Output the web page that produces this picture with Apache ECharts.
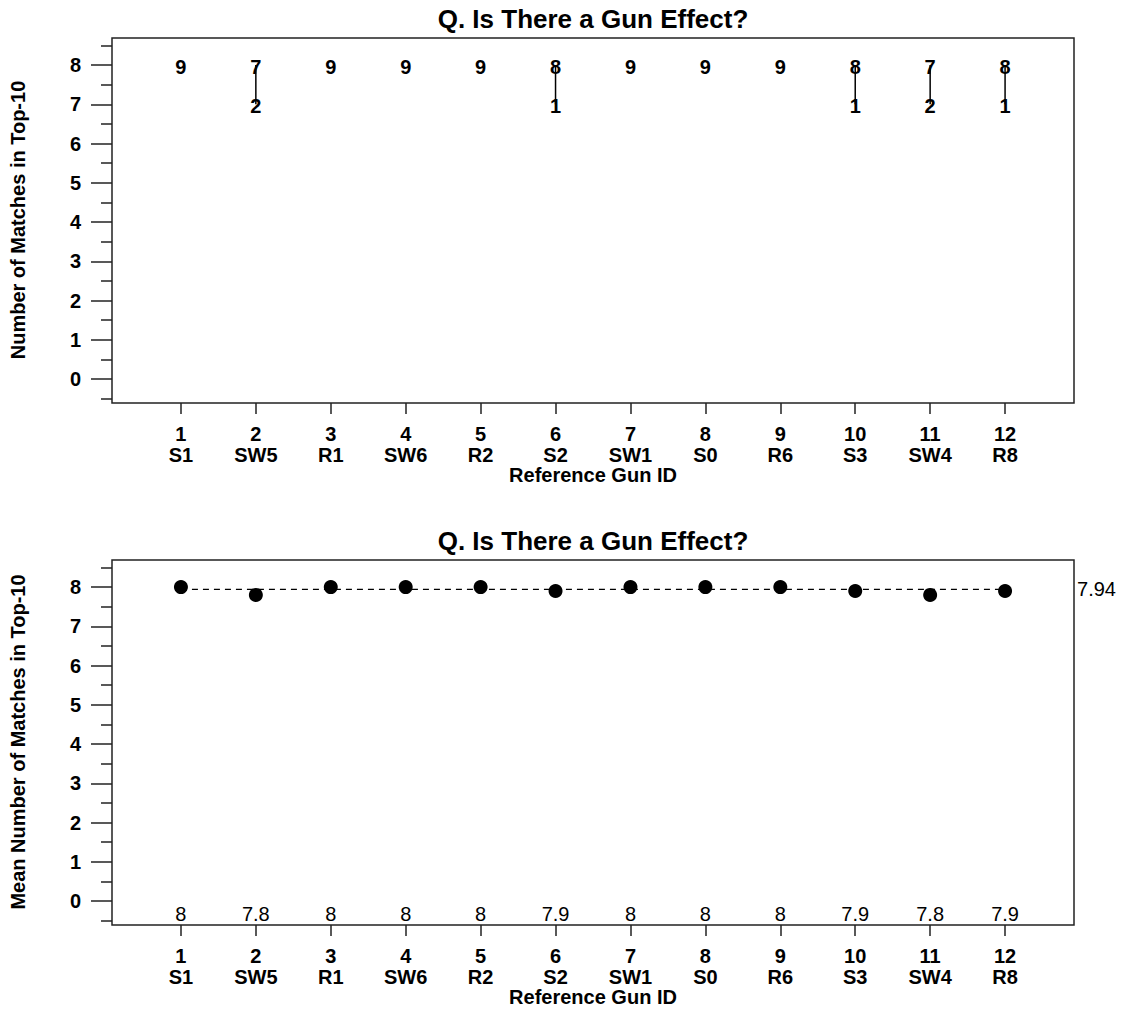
<!DOCTYPE html>
<html>
<head>
<meta charset="utf-8">
<title>Q. Is There a Gun Effect?</title>
<script src="https://cdn.jsdelivr.net/npm/echarts@6/dist/echarts.min.js"></script>
<style>
  html, body { margin: 0; padding: 0; background: #fff; }
  #chart { width: 1122px; height: 1009px; }
</style>
</head>
<body>
<div id="chart"></div>
<script>
// Reference guns along the x axis
const gunNumbers = [1, 2, 3, 4, 5, 6, 7, 8, 9, 10, 11, 12];
const gunIds = ['S1', 'SW5', 'R1', 'SW6', 'R2', 'S2', 'SW1', 'S0', 'R6', 'S3', 'SW4', 'R8'];

// How many runs gave 8 matches and how many gave 7 matches in the top 10
const runsWith8 = [9, 7, 9, 9, 9, 8, 9, 9, 9, 8, 7, 8];
const runsWith7 = [0, 2, 0, 0, 0, 1, 0, 0, 0, 1, 2, 1];

// Mean number of matches per gun, and the overall mean
const meanMatches = [8, 7.8, 8, 8, 8, 7.9, 8, 8, 8, 7.9, 7.8, 7.9];
const overallMean = 7.94;

// Axis ticks
const yMajorTicks = [0, 1, 2, 3, 4, 5, 6, 7, 8];
const yMinorTicks = [-0.5, 0.5, 1.5, 2.5, 3.5, 4.5, 5.5, 6.5, 7.5, 8.5];

const titleText = 'Q. Is There a Gun Effect?';
const xAxisTitle = 'Reference Gun ID';
const yAxisTitleTop = 'Number of Matches in Top-10';
const yAxisTitleBottom = 'Mean Number of Matches in Top-10';

const FONT = '"Liberation Sans", Arial, Helvetica, sans-serif';
const BLACK = '#000';

const X_MIN = 0.08, X_MAX = 12.92;
const Y_MIN = -0.61, Y_MAX = 8.69;

const grids = [
  { left: 112, right: 48, top: 38, height: 365 },
  { left: 112, right: 48, top: 560, height: 365 }
];

function makeXAxis(gridIndex) {
  return {
    type: 'value', gridIndex, min: X_MIN, max: X_MAX, position: 'bottom',
    axisLine: { show: false, onZero: false },
    splitLine: { show: false },
    axisTick: { show: true, length: 11, customValues: gunNumbers,
                lineStyle: { color: '#222', width: 1.5 } },
    axisLabel: {
      customValues: gunNumbers,
      margin: 20,
      formatter: v => v + '\n' + gunIds[gunNumbers.indexOf(v)],
      fontFamily: FONT, fontSize: 20, fontWeight: 'bold', color: BLACK,
      lineHeight: 21
    }
  };
}

function makeYAxes(gridIndex) {
  return [
    {
      type: 'value', gridIndex, min: Y_MIN, max: Y_MAX, position: 'left',
      axisLine: { show: false, onZero: false }, splitLine: { show: false },
      axisTick: { show: true, length: 21, customValues: yMajorTicks,
                  lineStyle: { color: '#222', width: 1.5 } },
      axisLabel: { customValues: yMajorTicks, margin: 31,
                   fontFamily: FONT, fontSize: 20, fontWeight: 'bold', color: BLACK }
    },
    {
      type: 'value', gridIndex, min: Y_MIN, max: Y_MAX, position: 'left',
      axisLine: { show: false, onZero: false }, splitLine: { show: false },
      axisTick: { show: true, length: 11, customValues: yMinorTicks,
                  lineStyle: { color: '#222', width: 1.5 } },
      axisLabel: { show: false }
    }
  ];
}

// Count labels for the top panel: one label at y = 8 and, where present, one at y = 7
const countLabels = [];
const connectors = [];
gunNumbers.forEach((g, i) => {
  if (runsWith8[i] > 0) countLabels.push([g, 8, runsWith8[i]]);
  if (runsWith7[i] > 0) countLabels.push([g, 7, runsWith7[i]]);
  if (runsWith8[i] > 0 && runsWith7[i] > 0) connectors.push([g, 8, 7]);
});

const meanPoints = gunNumbers.map((g, i) => [g, meanMatches[i]]);
const meanLabelRow = -0.3;
const meanLabels = gunNumbers.map((g, i) => [g, meanLabelRow, meanMatches[i]]);

const chart = echarts.init(document.getElementById('chart'), null, { renderer: 'svg' });

const titleFont = 'bold 26px ' + FONT;
const axisTitleFont = 'bold 20px ' + FONT;

chart.setOption({
  backgroundColor: '#fff',
  animation: false,
  grid: grids.map(g => Object.assign({ show: true, borderColor: '#222', borderWidth: 1.5,
                                       backgroundColor: 'transparent' }, g)),
  xAxis: [makeXAxis(0), makeXAxis(1)],
  yAxis: [...makeYAxes(0), ...makeYAxes(1)],
  graphic: [
    { type: 'text', x: 593, y: 19, style: { text: titleText, font: titleFont,
      fill: BLACK, align: 'center', verticalAlign: 'middle' } },
    { type: 'text', x: 593, y: 541, style: { text: titleText, font: titleFont,
      fill: BLACK, align: 'center', verticalAlign: 'middle' } },
    { type: 'text', x: 593, y: 475, style: { text: xAxisTitle, font: axisTitleFont,
      fill: BLACK, align: 'center', verticalAlign: 'middle' } },
    { type: 'text', x: 593, y: 997, style: { text: xAxisTitle, font: axisTitleFont,
      fill: BLACK, align: 'center', verticalAlign: 'middle' } },
    { type: 'text', x: 18, y: 220, rotation: Math.PI / 2,
      style: { text: yAxisTitleTop, font: axisTitleFont, fill: BLACK,
               align: 'center', verticalAlign: 'middle' } },
    { type: 'text', x: 18, y: 742, rotation: Math.PI / 2,
      style: { text: yAxisTitleBottom, font: axisTitleFont, fill: BLACK,
               align: 'center', verticalAlign: 'middle' } }
  ],
  series: [
    {
      // vertical link between the 8-match and 7-match counts
      type: 'custom', xAxisIndex: 0, yAxisIndex: 0, data: connectors, z: 2,
      renderItem: (params, api) => {
        const p1 = api.coord([api.value(0), api.value(1)]);
        const p2 = api.coord([api.value(0), api.value(2)]);
        return { type: 'line', shape: { x1: p1[0], y1: p1[1], x2: p2[0], y2: p2[1] },
                 style: { stroke: BLACK, lineWidth: 1.5 } };
      }
    },
    {
      type: 'scatter', xAxisIndex: 0, yAxisIndex: 0, data: countLabels, z: 3,
      symbolSize: 0, itemStyle: { color: BLACK, opacity: 1 },
      label: { show: true, position: 'inside', offset: [0, 2],
               formatter: p => String(p.value[2]),
               fontFamily: FONT, fontSize: 20, fontWeight: 'bold', color: BLACK, opacity: 1 }
    },
    {
      type: 'line', xAxisIndex: 1, yAxisIndex: 2,
      data: [[gunNumbers[0], overallMean], [gunNumbers[gunNumbers.length - 1], overallMean]],
      symbol: 'none', z: 2,
      lineStyle: { color: BLACK, width: 1.2, type: [6, 5] },
      endLabel: { show: true, distance: 72, formatter: () => String(overallMean),
                  fontFamily: FONT, fontSize: 20, color: BLACK }
    },
    {
      type: 'scatter', xAxisIndex: 1, yAxisIndex: 2, data: meanPoints, z: 3,
      symbol: 'circle', symbolSize: 14, itemStyle: { color: BLACK, opacity: 1 }
    },
    {
      type: 'scatter', xAxisIndex: 1, yAxisIndex: 2, data: meanLabels, z: 3,
      symbolSize: 0, itemStyle: { color: BLACK, opacity: 1 },
      label: { show: true, position: 'inside', offset: [0, 1],
               formatter: p => String(p.value[2]),
               fontFamily: FONT, fontSize: 20, color: BLACK, opacity: 1 }
    }
  ]
});
</script>
</body>
</html>
